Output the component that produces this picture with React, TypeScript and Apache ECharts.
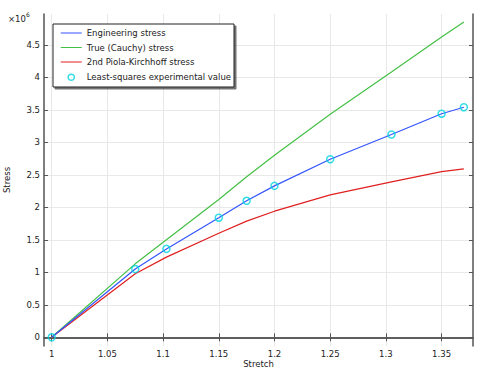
import React, { useEffect, useRef } from "react";
import * as echarts from "echarts";

// Stretch values of the sampled points
const stretch = [1, 1.075, 1.103, 1.15, 1.175, 1.2, 1.25, 1.305, 1.35, 1.37];
// Stress values (×10^6)
const engineering = [0, 1.05, 1.36, 1.84, 2.1, 2.33, 2.74, 3.12, 3.44, 3.54];
const cauchy = [0, 1.13, 1.5, 2.12, 2.47, 2.8, 3.43, 4.08, 4.62, 4.85];
const piola = [0, 0.977, 1.233, 1.6, 1.787, 1.94, 2.19, 2.39, 2.548, 2.59];
const experimental = [0, 1.05, 1.36, 1.84, 2.1, 2.33, 2.74, 3.12, 3.44, 3.54];

const xTicks = [1, 1.05, 1.1, 1.15, 1.2, 1.25, 1.3, 1.35];
const yTicks = [0, 0.5, 1, 1.5, 2, 2.5, 3, 3.5, 4, 4.5];

const FONT = "DejaVu Sans";
const AXIS_COLOR = "#555555";
const GRID_COLOR = "#e8e8e8";
const LINE_ICON = "path://M0,0 L21,0 L21,0.001 Z M0,4.4 L21,4.4 L21,5.6 L0,5.6 Z M0,10 L21,10 L21,10.001 Z";
const RING_ICON =
  "path://M0,0 L0.001,0 M21,10 L21.001,10 M13.6,5 A3.1,3.1 0 1 1 7.4,5 A3.1,3.1 0 1 1 13.6,5 Z";

export default function App() {
  const ref = useRef<HTMLDivElement>(null);
  useEffect(() => {
    if (!ref.current) return;
    const chart = echarts.init(ref.current, undefined, { renderer: "svg" });
    const pair = (ys: number[]) => stretch.map((x, i) => [x, ys[i]]);
    const xBase = {
      type: "value",
      min: 0.9931,
      max: 1.3782,
      axisLine: { show: true, lineStyle: { color: AXIS_COLOR, width: 1.5 } },
      axisTick: { show: true, inside: true, length: 4, customValues: xTicks, lineStyle: { color: AXIS_COLOR } },
      splitLine: { show: false },
    };
    const yBase = {
      type: "value",
      min: -0.134,
      max: 4.974,
      axisLine: { show: true, lineStyle: { color: AXIS_COLOR, width: 1.5 } },
      axisTick: { show: true, inside: true, length: 4, customValues: yTicks, lineStyle: { color: AXIS_COLOR } },
      splitLine: { show: false },
    };
    chart.setOption({
      animation: false,
      backgroundColor: "#ffffff",
      textStyle: { fontFamily: FONT },
      grid: { left: 44, top: 14, right: 5, bottom: 26, containLabel: false, outerBoundsMode: "none" },
      xAxis: [
        {
          ...xBase,
          position: "bottom",
          name: "Stretch",
          nameLocation: "middle",
          nameGap: 13,
          nameMoveOverlap: false,
          nameTextStyle: { fontSize: 8.5, color: "#222", fontFamily: FONT, verticalAlign: "top" },
          axisLabel: {
            show: true,
            customValues: xTicks,
            margin: 3,
            fontSize: 8.5,
            color: "#222",
            fontFamily: FONT,
            formatter: (v: number) => String(parseFloat(v.toFixed(2))),
          },
          splitLine: { show: true, lineStyle: { color: GRID_COLOR, width: 1 } },
        },
        { ...xBase, position: "top", axisLabel: { show: false } },
      ],
      yAxis: [
        {
          ...yBase,
          position: "left",
          name: "Stress",
          nameLocation: "middle",
          nameGap: 33,
          nameMoveOverlap: false,
          nameTextStyle: { fontSize: 8.5, color: "#222", fontFamily: FONT },
          axisLabel: {
            show: true,
            customValues: yTicks,
            margin: 4,
            fontSize: 8.5,
            color: "#222",
            fontFamily: FONT,
            formatter: (v: number) => String(parseFloat(v.toFixed(2))),
          },
          splitLine: { show: true, lineStyle: { color: GRID_COLOR, width: 1 } },
        },
        { ...yBase, position: "right", axisLabel: { show: false } },
      ],
      legend: {
        show: true,
        orient: "vertical",
        left: 53,
        top: 24,
        padding: [4, 3, 4, 7],
        itemGap: 4.5,
        itemWidth: 21,
        itemHeight: 10,
        backgroundColor: "#ffffff",
        borderColor: "#222222",
        borderWidth: 1,
        borderRadius: 0,
        shadowColor: "rgba(0,0,0,0.55)",
        shadowBlur: 0,
        shadowOffsetX: 2,
        shadowOffsetY: 2,
        textStyle: { fontSize: 8.5, color: "#222", fontFamily: FONT },
        data: [
          { name: "Engineering stress", icon: LINE_ICON },
          { name: "True (Cauchy) stress", icon: LINE_ICON },
          { name: "2nd Piola-Kirchhoff stress", icon: LINE_ICON },
          {
            name: "Least-squares experimental value",
            icon: RING_ICON,
            itemStyle: { color: "rgba(255,255,255,0)", borderColor: "#00d4e0", borderWidth: 1.5 },
          },
        ],
      },
      graphic: [
        {
          type: "text",
          left: 8,
          top: 11,
          style: {
            text: "{a|×10}{b|6}",
            rich: {
              a: { fontSize: 8.5, fontFamily: FONT, fill: "#222", verticalAlign: "bottom" },
              b: { fontSize: 6, fontFamily: FONT, fill: "#222", verticalAlign: "top", padding: [0, 0, 6, 0] },
            },
          },
        },
      ],
      series: [
        {
          name: "Engineering stress",
          type: "line",
          symbol: "none",
          data: pair(engineering),
          lineStyle: { color: "#3355ff", width: 1.2 },
          itemStyle: { color: "#3355ff" },
          z: 3,
        },
        {
          name: "True (Cauchy) stress",
          type: "line",
          symbol: "none",
          data: pair(cauchy),
          lineStyle: { color: "#44c044", width: 1.2 },
          itemStyle: { color: "#44c044" },
          z: 2,
        },
        {
          name: "2nd Piola-Kirchhoff stress",
          type: "line",
          symbol: "none",
          data: pair(piola),
          lineStyle: { color: "#e02020", width: 1.2 },
          itemStyle: { color: "#e02020" },
          z: 2,
        },
        {
          name: "Least-squares experimental value",
          type: "scatter",
          symbol: "circle",
          symbolSize: 7,
          data: pair(experimental),
          itemStyle: { color: "rgba(255,255,255,0)", borderColor: "#00d4e0", borderWidth: 1.5 },
          z: 4,
        },
      ],
    });
    return () => chart.dispose();
  }, []);
  return (
    <div
      ref={ref}
      style={{ position: "absolute", left: 0, top: 0, width: 478, height: 372 }}
    />
  );
}
